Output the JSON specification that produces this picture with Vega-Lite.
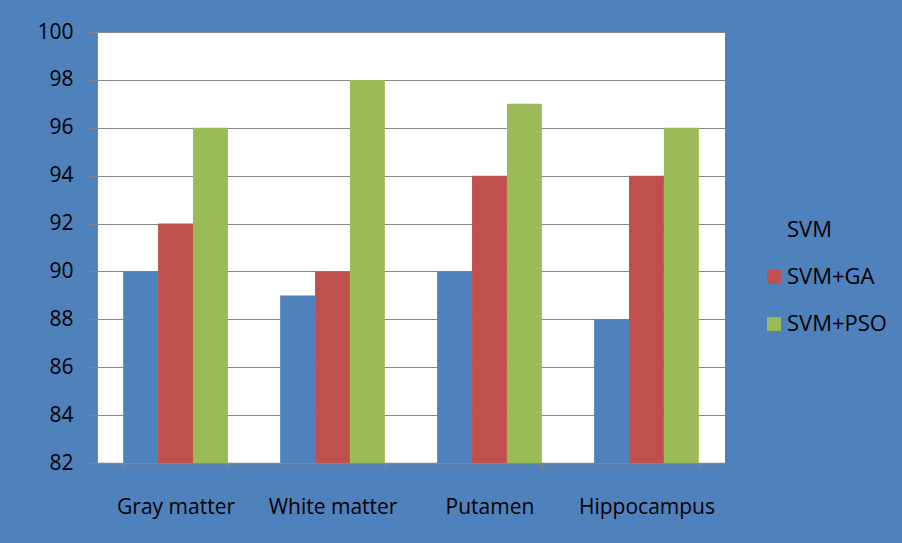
{
  "$schema": "https://vega.github.io/schema/vega-lite/v6.json",
  "autosize": "none",
  "width": 628,
  "height": 431,
  "padding": {"left": 97, "top": 32, "right": 177, "bottom": 80},
  "background": "#4F81BD",
  "config": {
    "view": {"fill": "white", "stroke": null},
    "font": "Open Sans"
  },
  "data": {
    "values": [
      {"region": "Gray matter", "method": "SVM", "value": 90},
      {"region": "Gray matter", "method": "SVM+GA", "value": 92},
      {"region": "Gray matter", "method": "SVM+PSO", "value": 96},
      {"region": "White matter", "method": "SVM", "value": 89},
      {"region": "White matter", "method": "SVM+GA", "value": 90},
      {"region": "White matter", "method": "SVM+PSO", "value": 98},
      {"region": "Putamen", "method": "SVM", "value": 90},
      {"region": "Putamen", "method": "SVM+GA", "value": 94},
      {"region": "Putamen", "method": "SVM+PSO", "value": 97},
      {"region": "Hippocampus", "method": "SVM", "value": 88},
      {"region": "Hippocampus", "method": "SVM+GA", "value": 94},
      {"region": "Hippocampus", "method": "SVM+PSO", "value": 96}
    ]
  },
  "mark": {"type": "bar"},
  "encoding": {
    "x": {
      "field": "region",
      "type": "nominal",
      "sort": ["Gray matter", "White matter", "Putamen", "Hippocampus"],
      "scale": {"paddingInner": 0.333, "paddingOuter": 0.1667},
      "axis": {
        "title": null,
        "labelAngle": 0,
        "labelFontSize": 21,
        "labelColor": "black",
        "labelPadding": 27,
        "domainColor": "#868686",
        "tickColor": "#868686",
        "tickSize": 6,
        "tickBand": "extent",
        "domainWidth": 1.5
      }
    },
    "xOffset": {
      "field": "method",
      "type": "nominal",
      "sort": ["SVM", "SVM+GA", "SVM+PSO"]
    },
    "y": {
      "field": "value",
      "type": "quantitative",
      "scale": {"domain": [82, 100], "zero": false, "nice": false},
      "axis": {
        "title": null,
        "values": [82, 84, 86, 88, 90, 92, 94, 96, 98, 100],
        "labelFontSize": 21,
        "labelColor": "black",
        "labelPadding": 16,
        "tickSize": 8,
        "tickColor": "#868686",
        "domainColor": "#868686",
        "gridColor": "#868686",
        "gridOpacity": 1,
        "grid": true
      }
    },
    "y2": {"datum": 82},
    "color": {
      "field": "method",
      "type": "nominal",
      "sort": ["SVM", "SVM+GA", "SVM+PSO"],
      "scale": {"domain": ["SVM", "SVM+GA", "SVM+PSO"], "range": ["#4F81BD", "#C0504D", "#9BBB59"]},
      "legend": {
        "title": null,
        "orient": "none",
        "legendX": 666,
        "legendY": 187,
        "symbolType": "square",
        "symbolSize": 196,
        "symbolStrokeWidth": 0,
        "labelFontSize": 22,
        "labelColor": "black",
        "rowPadding": 25,
        "labelOffset": 2
      }
    }
  }
}
